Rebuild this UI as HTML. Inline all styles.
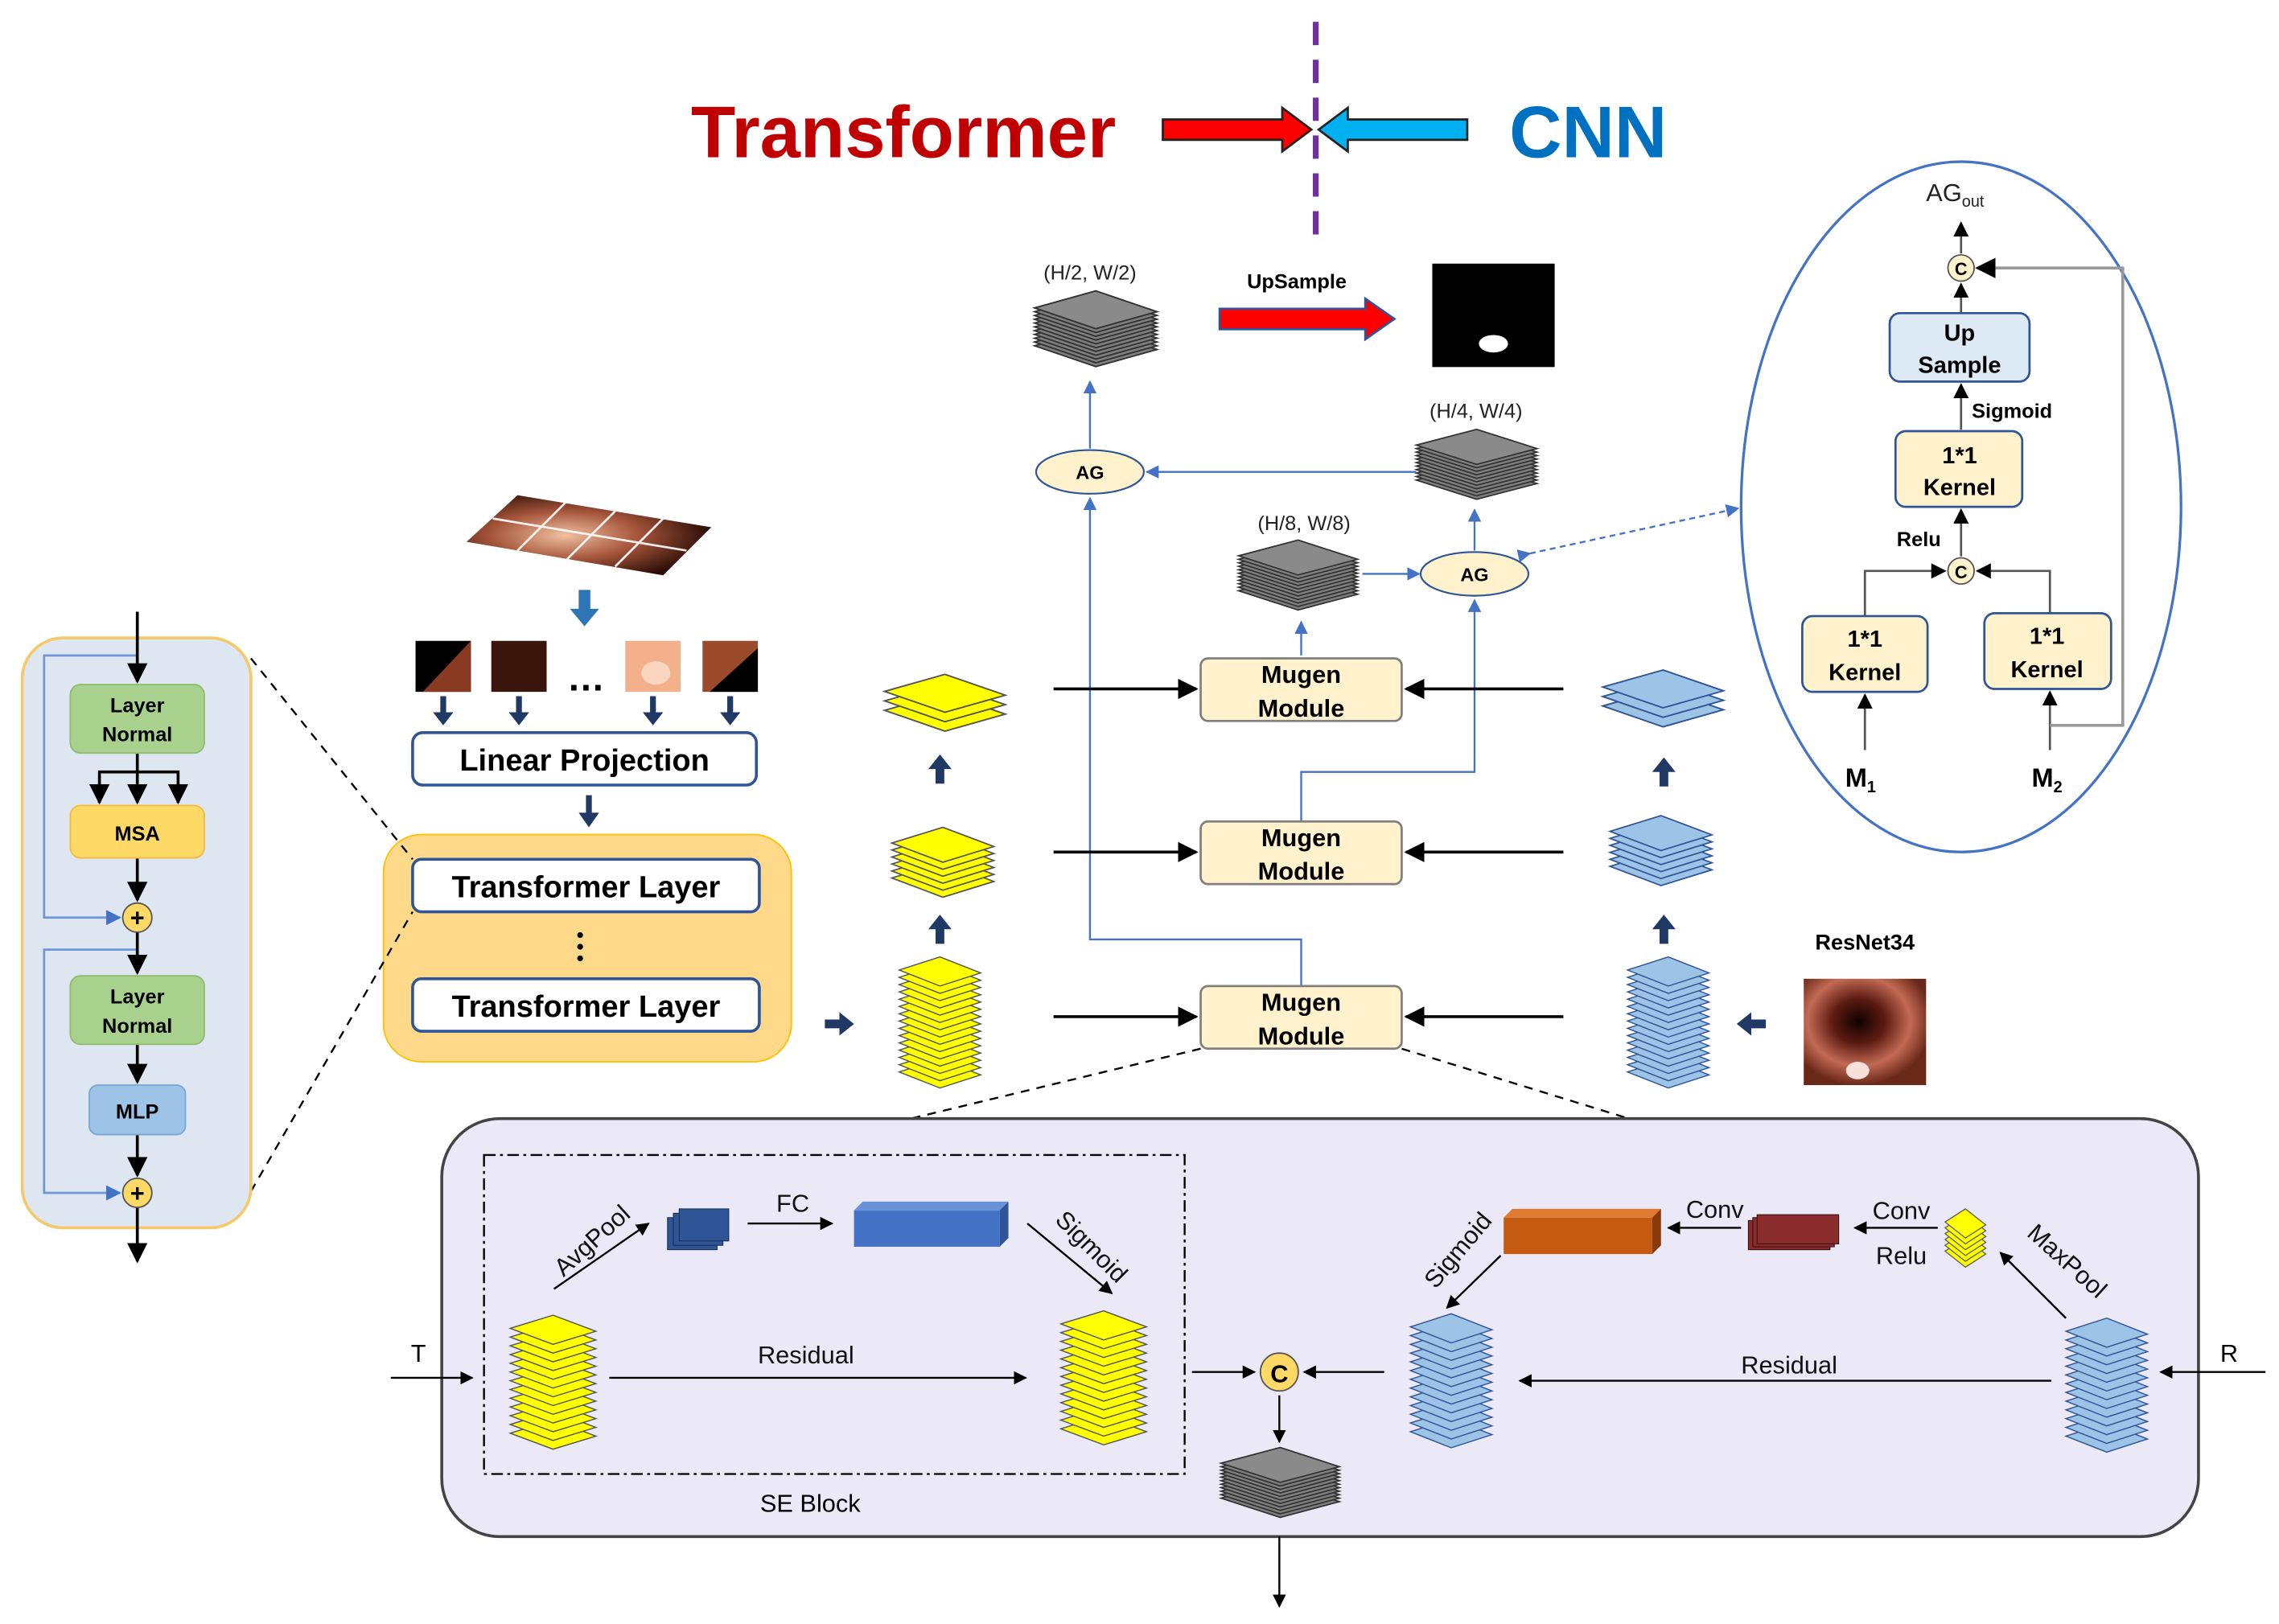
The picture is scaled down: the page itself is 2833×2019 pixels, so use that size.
<!DOCTYPE html>
<html><head><meta charset="utf-8"><style>html,body{margin:0;padding:0;background:#fff}svg{display:block}</style></head><body>
<svg width="2833" height="2019" viewBox="0 0 1564 1115" xmlns="http://www.w3.org/2000/svg" font-family="Liberation Sans, sans-serif">
<defs>
<polygon id="L" points="0,9 28,0 56,11 28,20"/>
<g id="G">
<use href="#L" y="19"/><use href="#L" y="17"/><use href="#L" y="15"/><use href="#L" y="13"/><use href="#L" y="11"/><use href="#L" y="9"/><use href="#L" y="7"/><use href="#L" y="5"/><use href="#L" y="3"/><use href="#L" y="1"/><use href="#L" y="-1" fill="#8a8a8a"/>
</g>
<marker id="ab" viewBox="0 0 10 10" refX="9" refY="5" markerWidth="7" markerHeight="7" orient="auto"><path d="M0,0L10,5L0,10z" fill="#000"/></marker>
<marker id="abl" viewBox="0 0 10 10" refX="9" refY="5" markerWidth="7" markerHeight="7" orient="auto"><path d="M0,0L10,5L0,10z" fill="#4472c4"/></marker>
<radialGradient id="pg" cx="0.4" cy="0.5" r="0.6"><stop offset="0" stop-color="#f0c0a0"/><stop offset="0.5" stop-color="#a5553a"/><stop offset="1" stop-color="#2a0d05"/></radialGradient>
<radialGradient id="rg" cx="0.45" cy="0.4" r="0.6"><stop offset="0" stop-color="#100302"/><stop offset="0.35" stop-color="#5b1a10"/><stop offset="0.7" stop-color="#c36a55"/><stop offset="1" stop-color="#6a2818"/></radialGradient>
</defs>

<line x1="903" y1="15" x2="903" y2="165" stroke="#7030a0" stroke-width="4" stroke-dasharray="16,10"/>
<text x="620" y="108" font-size="50" font-weight="bold" fill="#c00000" text-anchor="middle">Transformer</text>
<text x="1090" y="108" font-size="50" font-weight="bold" fill="#0070c0" text-anchor="middle">CNN</text>
<polygon points="798,82 880,82 880,74 900,89 880,104 880,96 798,96" fill="#ff0000" stroke="#222" stroke-width="1.5"/>
<polygon points="1007,82 925,82 925,74 905,89 925,104 925,96 1007,96" fill="#00b0f0" stroke="#222" stroke-width="1.5"/>

<text x="748" y="192" font-size="14" text-anchor="middle" fill="#222">(H/2, W/2)</text>
<g fill="#7f7f7f" stroke="#333" stroke-width="0.8">
<g transform="translate(710,201) scale(1.5,1.3)"><use href="#G"/></g>
<g transform="translate(972,296) scale(1.48,1.2)"><use href="#G"/></g>
<g transform="translate(850,372) scale(1.46,1.2)"><use href="#G"/></g>
</g>
<text x="890" y="198" font-size="14" font-weight="bold" text-anchor="middle">UpSample</text>
<polygon points="837,212 937,212 937,205 957,219 937,233 937,226 837,226" fill="#ff0000" stroke="#2f5597" stroke-width="1.5"/>
<rect x="983" y="181" width="84" height="71" fill="#000"/>
<ellipse cx="1025" cy="236" rx="10" ry="6" fill="#fff"/>
<text x="1013" y="287" font-size="14" text-anchor="middle" fill="#222">(H/4, W/4)</text>
<text x="895" y="364" font-size="14" text-anchor="middle" fill="#222">(H/8, W/8)</text>

<g stroke="#4472c4" stroke-width="1.3" fill="none">
<line x1="972" y1="324" x2="787" y2="324" marker-end="url(#abl)"/>
<line x1="748" y1="308" x2="748" y2="262" marker-end="url(#abl)"/>
<line x1="935" y1="394" x2="974" y2="394" marker-end="url(#abl)"/>
<line x1="1012" y1="378" x2="1012" y2="350" marker-end="url(#abl)"/>
<line x1="893" y1="450" x2="893" y2="427" marker-end="url(#abl)"/>
<polyline points="893,677 893,645 748,645 748,342" marker-end="url(#abl)"/>
<polyline points="893,564 893,530 1012,530 1012,412" marker-end="url(#abl)"/>
<line x1="1050" y1="380" x2="1193" y2="349" stroke-dasharray="4,3" marker-end="url(#abl)" marker-start="url(#abl)"/>
</g>
<ellipse cx="748" cy="324" rx="37" ry="15" fill="#fff2cc" stroke="#2f5597" stroke-width="1.2"/>
<text x="748" y="329" font-size="13" font-weight="bold" text-anchor="middle">AG</text>
<ellipse cx="1012" cy="394" rx="37" ry="15" fill="#fff2cc" stroke="#2f5597" stroke-width="1.2"/>
<text x="1012" y="399" font-size="13" font-weight="bold" text-anchor="middle">AG</text>

<g fill="#fff2cc" stroke="#7f7f7f" stroke-width="1.5">
<rect x="824" y="452" width="138" height="43" rx="5"/>
<rect x="824" y="564" width="138" height="43" rx="5"/>
<rect x="824" y="677" width="138" height="43" rx="5"/>
</g>
<g font-size="17" font-weight="bold" text-anchor="middle">
<text x="893" y="469">Mugen</text><text x="893" y="492">Module</text>
<text x="893" y="581">Mugen</text><text x="893" y="604">Module</text>
<text x="893" y="694">Mugen</text><text x="893" y="717">Module</text>
</g>
<g stroke="#000" stroke-width="2">
<line x1="723" y1="473" x2="821" y2="473" marker-end="url(#ab)"/>
<line x1="723" y1="585" x2="821" y2="585" marker-end="url(#ab)"/>
<line x1="723" y1="698" x2="821" y2="698" marker-end="url(#ab)"/>
<line x1="1073" y1="473" x2="965" y2="473" marker-end="url(#ab)"/>
<line x1="1073" y1="585" x2="965" y2="585" marker-end="url(#ab)"/>
<line x1="1073" y1="698" x2="965" y2="698" marker-end="url(#ab)"/>
</g>

<g fill="#ffff00" stroke="#555" stroke-width="0.8">
<g transform="translate(607,463) scale(1.48,1.3)"><use href="#L" y="10"/><use href="#L" y="5"/><use href="#L" y="0"/></g>
<g transform="translate(612,568) scale(1.25,1.2)"><use href="#L" y="20"/><use href="#L" y="16"/><use href="#L" y="12"/><use href="#L" y="8"/><use href="#L" y="4"/><use href="#L" y="0"/></g>
<g transform="translate(617,657)"><use href="#L" y="70"/><use href="#L" y="65"/><use href="#L" y="60"/><use href="#L" y="55"/><use href="#L" y="50"/><use href="#L" y="45"/><use href="#L" y="40"/><use href="#L" y="35"/><use href="#L" y="30"/><use href="#L" y="25"/><use href="#L" y="20"/><use href="#L" y="15"/><use href="#L" y="10"/><use href="#L" y="5"/><use href="#L" y="0"/></g>
</g>
<g fill="#9dc3e6" stroke="#2f5597" stroke-width="0.8">
<g transform="translate(1100,460) scale(1.48,1.3)"><use href="#L" y="10"/><use href="#L" y="5"/><use href="#L" y="0"/></g>
<g transform="translate(1105,560) scale(1.25,1.2)"><use href="#L" y="20"/><use href="#L" y="16"/><use href="#L" y="12"/><use href="#L" y="8"/><use href="#L" y="4"/><use href="#L" y="0"/></g>
<g transform="translate(1117,657)"><use href="#L" y="70"/><use href="#L" y="65"/><use href="#L" y="60"/><use href="#L" y="55"/><use href="#L" y="50"/><use href="#L" y="45"/><use href="#L" y="40"/><use href="#L" y="35"/><use href="#L" y="30"/><use href="#L" y="25"/><use href="#L" y="20"/><use href="#L" y="15"/><use href="#L" y="10"/><use href="#L" y="5"/><use href="#L" y="0"/></g>
</g>
<g fill="#1f3864">
<polygon points="642,538 648,538 648,528 653,528 645,518 637,528 642,528"/>
<polygon points="642,648 648,648 648,638 653,638 645,628 637,638 642,638"/>
<polygon points="1139,540 1145,540 1145,530 1150,530 1142,520 1134,530 1139,530"/>
<polygon points="1139,648 1145,648 1145,638 1150,638 1142,628 1134,638 1139,638"/>
<polygon points="566,700 576,700 576,695 586,703 576,711 576,706 566,706"/>
<polygon points="1212,700 1202,700 1202,695 1192,703 1202,711 1202,706 1212,706"/>
</g>
<text x="1280" y="652" font-size="15" font-weight="bold" text-anchor="middle">ResNet34</text>
<rect x="1238" y="672" width="84" height="73" fill="url(#rg)"/>
<ellipse cx="1275" cy="735" rx="8" ry="6" fill="#f6e0d8"/>

<polygon points="355,340 488,362 455,395 320,372" fill="url(#pg)"/>
<g stroke="#fff" stroke-width="1.5" opacity="0.9">
<line x1="338" y1="356" x2="471" y2="378"/>
<line x1="388" y1="345" x2="355" y2="378"/><line x1="422" y1="351" x2="389" y2="384"/><line x1="455" y1="356" x2="422" y2="389"/>
</g>
<g fill="#2e75b6"><polygon points="397,405 405,405 405,418 411,418 401,430 391,418 397,418"/></g>
<rect x="285" y="440" width="38" height="35" fill="#000"/><polygon points="323,440 323,475 290,475" fill="#8a3a22"/>
<rect x="337" y="440" width="38" height="35" fill="#3a150c"/>
<rect x="429" y="440" width="38" height="35" fill="#f3b08a"/><ellipse cx="450" cy="462" rx="10" ry="8" fill="#fad6c0"/>
<rect x="482" y="440" width="38" height="35" fill="#9b4a2c"/><polygon points="520,445 520,475 487,475" fill="#000"/>
<text x="402" y="474" font-size="26" font-weight="bold" text-anchor="middle">…</text>
<g fill="#1f3864">
<polygon points="302,478 306,478 306,489 311,489 304,498 297,489 302,489"/>
<polygon points="354,478 358,478 358,489 363,489 356,498 349,489 354,489"/>
<polygon points="446,478 450,478 450,489 455,489 448,498 441,489 446,489"/>
<polygon points="499,478 503,478 503,489 508,489 501,498 494,489 499,489"/>
<polygon points="402,546 406,546 406,558 411,558 404,568 397,558 402,558"/>
</g>
<rect x="283" y="503" width="236" height="36" rx="7" fill="#fff" stroke="#2f5597" stroke-width="2"/>
<text x="401" y="529" font-size="21" font-weight="bold" text-anchor="middle">Linear Projection</text>
<rect x="263" y="573" width="280" height="156" rx="26" fill="#ffd98a" stroke="#ffc000" stroke-width="1"/>
<rect x="283" y="590" width="238" height="36" rx="6" fill="#fff" stroke="#2f5597" stroke-width="2"/>
<text x="402" y="616" font-size="21" font-weight="bold" text-anchor="middle">Transformer Layer</text>
<rect x="283" y="672" width="238" height="36" rx="6" fill="#fff" stroke="#2f5597" stroke-width="2"/>
<text x="402" y="698" font-size="21" font-weight="bold" text-anchor="middle">Transformer Layer</text>
<g fill="#000"><circle cx="398" cy="642" r="2"/><circle cx="398" cy="650" r="2"/><circle cx="398" cy="658" r="2"/></g>
<g stroke="#000" stroke-width="1.3" stroke-dasharray="6,5">
<line x1="172" y1="452" x2="283" y2="590"/>
<line x1="172" y1="818" x2="283" y2="626"/>
</g>

<rect x="15" y="438" width="157" height="405" rx="28" fill="#dee6f2" stroke="#f5c96a" stroke-width="2"/>
<g stroke="#6f96d6" stroke-width="1.5" fill="none">
<polyline points="94,450 30,450 30,630 82,630" marker-end="url(#abl)"/>
<polyline points="94,652 30,652 30,819 82,819" marker-end="url(#abl)"/>
</g>
<g stroke="#000" stroke-width="2" fill="none">
<line x1="94" y1="420" x2="94" y2="468" marker-end="url(#ab)"/>
<line x1="94" y1="517" x2="94" y2="551" marker-end="url(#ab)"/>
<polyline points="68,551 68,530 122,530 122,551"/>
<line x1="68" y1="538" x2="68" y2="551" marker-end="url(#ab)"/>
<line x1="122" y1="538" x2="122" y2="551" marker-end="url(#ab)"/>
<line x1="94" y1="589" x2="94" y2="618" marker-end="url(#ab)"/>
<line x1="94" y1="640" x2="94" y2="668" marker-end="url(#ab)"/>
<line x1="94" y1="717" x2="94" y2="743" marker-end="url(#ab)"/>
<line x1="94" y1="779" x2="94" y2="807" marker-end="url(#ab)"/>
<line x1="94" y1="829" x2="94" y2="866" marker-end="url(#ab)"/>
</g>
<rect x="48" y="470" width="92" height="47" rx="7" fill="#a9d18e" stroke="#8fbc6e"/>
<text x="94" y="489" font-size="14" font-weight="bold" text-anchor="middle">Layer</text><text x="94" y="509" font-size="14" font-weight="bold" text-anchor="middle">Normal</text>
<rect x="48" y="553" width="92" height="36" rx="7" fill="#ffd966" stroke="#f4b942"/>
<text x="94" y="577" font-size="14" font-weight="bold" text-anchor="middle">MSA</text>
<rect x="48" y="670" width="92" height="47" rx="7" fill="#a9d18e" stroke="#8fbc6e"/>
<text x="94" y="689" font-size="14" font-weight="bold" text-anchor="middle">Layer</text><text x="94" y="709" font-size="14" font-weight="bold" text-anchor="middle">Normal</text>
<rect x="61" y="745" width="66" height="34" rx="6" fill="#9dc3e6" stroke="#7aa6d8"/>
<text x="94" y="768" font-size="14" font-weight="bold" text-anchor="middle">MLP</text>
<g fill="#ffd966" stroke="#555" stroke-width="1"><circle cx="94" cy="630" r="10"/><circle cx="94" cy="819" r="10"/></g>
<g font-size="17" font-weight="bold" text-anchor="middle"><text x="94" y="636">+</text><text x="94" y="825">+</text></g>

<ellipse cx="1346" cy="348" rx="151" ry="237" fill="none" stroke="#4472c4" stroke-width="1.8"/>
<text x="1322" y="138" font-size="17" fill="#222">AG<tspan font-size="11" dy="4">out</tspan></text>
<g stroke="#555" stroke-width="1.5" fill="none">
<line x1="1346" y1="174" x2="1346" y2="153" marker-end="url(#ab)"/>
<line x1="1346" y1="215" x2="1346" y2="195" marker-end="url(#ab)"/>
<line x1="1346" y1="295" x2="1346" y2="264" marker-end="url(#ab)"/>
<line x1="1346" y1="382" x2="1346" y2="350" marker-end="url(#ab)"/>
<polyline points="1280,423 1280,392 1335,392" marker-end="url(#ab)"/>
<polyline points="1407,421 1407,392 1357,392" marker-end="url(#ab)"/>
<line x1="1280" y1="515" x2="1280" y2="477" marker-end="url(#ab)"/>
<line x1="1407" y1="515" x2="1407" y2="475" marker-end="url(#ab)"/>
<polyline points="1407,498 1457,498 1457,184 1357,184" marker-end="url(#ab)" stroke="#999" stroke-width="2"/>
</g>
<rect x="1297" y="215" width="96" height="47" rx="7" fill="#deebf7" stroke="#2f5597" stroke-width="1.5"/>
<text x="1345" y="234" font-size="16" font-weight="bold" text-anchor="middle">Up</text><text x="1345" y="256" font-size="16" font-weight="bold" text-anchor="middle">Sample</text>
<text x="1381" y="287" font-size="14" font-weight="bold" text-anchor="middle">Sigmoid</text>
<rect x="1301" y="296" width="87" height="52" rx="7" fill="#fff2cc" stroke="#2f5597" stroke-width="1.5"/>
<text x="1345" y="318" font-size="16" font-weight="bold" text-anchor="middle">1*1</text><text x="1345" y="340" font-size="16" font-weight="bold" text-anchor="middle">Kernel</text>
<text x="1317" y="375" font-size="14" font-weight="bold" text-anchor="middle">Relu</text>
<rect x="1237" y="423" width="86" height="52" rx="7" fill="#fff2cc" stroke="#2f5597" stroke-width="1.5"/>
<text x="1280" y="444" font-size="16" font-weight="bold" text-anchor="middle">1*1</text><text x="1280" y="467" font-size="16" font-weight="bold" text-anchor="middle">Kernel</text>
<rect x="1362" y="421" width="87" height="52" rx="7" fill="#fff2cc" stroke="#2f5597" stroke-width="1.5"/>
<text x="1405" y="442" font-size="16" font-weight="bold" text-anchor="middle">1*1</text><text x="1405" y="465" font-size="16" font-weight="bold" text-anchor="middle">Kernel</text>
<g fill="#fff2cc" stroke="#555"><circle cx="1346" cy="184" r="9"/><circle cx="1346" cy="392" r="9"/></g>
<g font-size="12" font-weight="bold" text-anchor="middle"><text x="1346" y="189">C</text><text x="1346" y="397">C</text></g>
<text x="1277" y="540" font-size="18" font-weight="bold" text-anchor="middle">M<tspan font-size="11" dy="4">1</tspan></text>
<text x="1405" y="540" font-size="18" font-weight="bold" text-anchor="middle">M<tspan font-size="11" dy="4">2</tspan></text>

<g stroke="#000" stroke-width="1.3" stroke-dasharray="6,5">
<line x1="824" y1="720" x2="625" y2="768"/>
<line x1="962" y1="720" x2="1118" y2="768"/>
</g>
<rect x="303" y="768" width="1206" height="287" rx="40" fill="#ebe9f8" stroke="#444" stroke-width="2"/>
<rect x="332" y="793" width="481" height="219" fill="none" stroke="#000" stroke-width="1.3" stroke-dasharray="8,3,2,3"/>
<text x="556" y="1038" font-size="17" text-anchor="middle">SE Block</text>
<text x="287" y="935" font-size="17" text-anchor="middle">T</text>
<text x="1530" y="935" font-size="17" text-anchor="middle">R</text>
<g stroke="#000" stroke-width="1.3" fill="none">
<line x1="268" y1="946" x2="324" y2="946" marker-end="url(#ab)"/>
<line x1="380" y1="885" x2="445" y2="840" marker-end="url(#ab)"/>
<line x1="513" y1="840" x2="571" y2="840" marker-end="url(#ab)"/>
<line x1="705" y1="840" x2="763" y2="888" marker-end="url(#ab)"/>
<line x1="418" y1="946" x2="704" y2="946" marker-end="url(#ab)"/>
<line x1="818" y1="942" x2="861" y2="942" marker-end="url(#ab)"/>
<line x1="950" y1="942" x2="895" y2="942" marker-end="url(#ab)"/>
<line x1="878" y1="958" x2="878" y2="990" marker-end="url(#ab)"/>
<line x1="878" y1="1055" x2="878" y2="1103" marker-end="url(#ab)"/>
<line x1="1030" y1="862" x2="993" y2="898" marker-end="url(#ab)"/>
<line x1="1195" y1="843" x2="1145" y2="843" marker-end="url(#ab)"/>
<line x1="1330" y1="843" x2="1273" y2="843" marker-end="url(#ab)"/>
<line x1="1418" y1="905" x2="1373" y2="860" marker-end="url(#ab)"/>
<line x1="1408" y1="948" x2="1043" y2="948" marker-end="url(#ab)"/>
<line x1="1555" y1="942" x2="1483" y2="942" marker-end="url(#ab)"/>
</g>
<g font-size="17" fill="#111">
<text x="553" y="936" text-anchor="middle">Residual</text>
<text x="1228" y="943" text-anchor="middle">Residual</text>
<text x="544" y="832" text-anchor="middle">FC</text>
<text x="1177" y="836" text-anchor="middle">Conv</text>
<text x="1305" y="837" text-anchor="middle">Conv</text>
<text x="1305" y="868" text-anchor="middle">Relu</text>
<text transform="translate(410,856) rotate(-42)" text-anchor="middle">AvgPool</text>
<text transform="translate(745,860) rotate(45)" text-anchor="middle">Sigmoid</text>
<text transform="translate(1005,862) rotate(-50)" text-anchor="middle">Sigmoid</text>
<text transform="translate(1415,870) rotate(42)" text-anchor="middle">MaxPool</text>
</g>
<g fill="#7f7f7f" stroke="#333" stroke-width="0.8"><g transform="translate(838,995) scale(1.45,1.2)"><use href="#G"/></g></g>
<g fill="#ffff00" stroke="#555" stroke-width="0.8">
<g transform="translate(350,903) scale(1.05,1)"><use href="#L" y="72"/><use href="#L" y="66"/><use href="#L" y="60"/><use href="#L" y="54"/><use href="#L" y="48"/><use href="#L" y="42"/><use href="#L" y="36"/><use href="#L" y="30"/><use href="#L" y="24"/><use href="#L" y="18"/><use href="#L" y="12"/><use href="#L" y="6"/><use href="#L" y="0"/></g>
<g transform="translate(728,900) scale(1.05,1)"><use href="#L" y="72"/><use href="#L" y="66"/><use href="#L" y="60"/><use href="#L" y="54"/><use href="#L" y="48"/><use href="#L" y="42"/><use href="#L" y="36"/><use href="#L" y="30"/><use href="#L" y="24"/><use href="#L" y="18"/><use href="#L" y="12"/><use href="#L" y="6"/><use href="#L" y="0"/></g>
<g transform="translate(1335,830) scale(0.5,1)"><use href="#L" y="20"/><use href="#L" y="16"/><use href="#L" y="12"/><use href="#L" y="8"/><use href="#L" y="4"/><use href="#L" y="0"/></g>
</g>
<g fill="#9dc3e6" stroke="#2f5597" stroke-width="0.8">
<g transform="translate(968,902)"><use href="#L" y="72"/><use href="#L" y="66"/><use href="#L" y="60"/><use href="#L" y="54"/><use href="#L" y="48"/><use href="#L" y="42"/><use href="#L" y="36"/><use href="#L" y="30"/><use href="#L" y="24"/><use href="#L" y="18"/><use href="#L" y="12"/><use href="#L" y="6"/><use href="#L" y="0"/></g>
<g transform="translate(1418,905)"><use href="#L" y="72"/><use href="#L" y="66"/><use href="#L" y="60"/><use href="#L" y="54"/><use href="#L" y="48"/><use href="#L" y="42"/><use href="#L" y="36"/><use href="#L" y="30"/><use href="#L" y="24"/><use href="#L" y="18"/><use href="#L" y="12"/><use href="#L" y="6"/><use href="#L" y="0"/></g>
</g>
<g fill="#2f5597" stroke="#1a2d55" stroke-width="0.6">
<rect x="458" y="836" width="34" height="22"/><rect x="462" y="833" width="34" height="22"/><rect x="466" y="830" width="34" height="22"/>
</g>
<g fill="#8b2c2c" stroke="#3a0d0d" stroke-width="0.6">
<rect x="1200" y="838" width="56" height="20"/><rect x="1203" y="836" width="56" height="20"/><rect x="1206" y="834" width="56" height="20"/>
</g>
<polygon points="586,831 592,825 692,825 686,831" fill="#6a92d8"/><polygon points="686,831 692,825 692,850 686,856" fill="#2f5597"/><rect x="586" y="831" width="100" height="25" fill="#4472c4"/>
<polygon points="1032,836 1038,830 1140,830 1134,836" fill="#e07a30"/><polygon points="1134,836 1140,830 1140,855 1134,861" fill="#8a3a0a"/><rect x="1032" y="836" width="102" height="25" fill="#c55a11"/>
<circle cx="878" cy="942" r="13" fill="#ffd966" stroke="#555"/>
<text x="878" y="949" font-size="17" font-weight="bold" text-anchor="middle">C</text>
</svg>
</body></html>
